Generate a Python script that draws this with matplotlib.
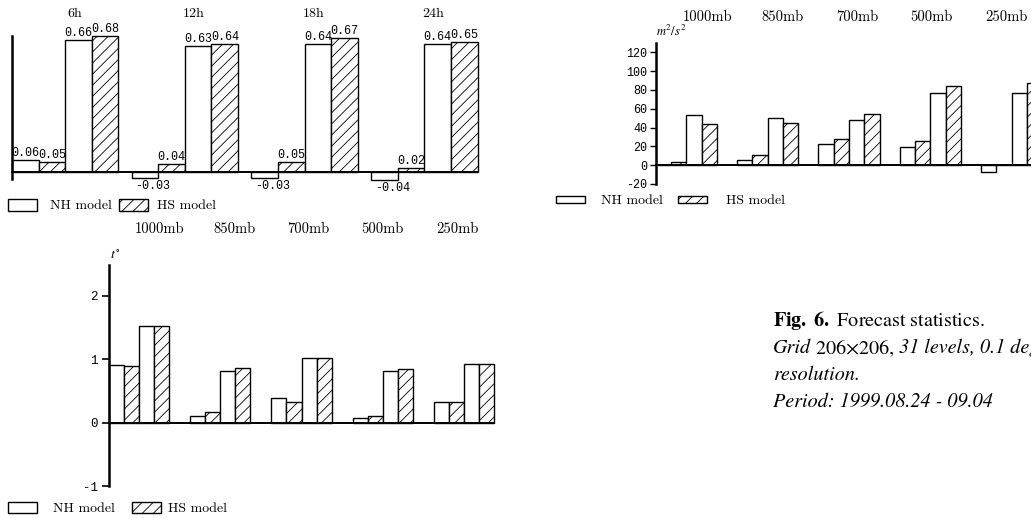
import numpy as np
import matplotlib.pyplot as plt
from matplotlib.patches import Rectangle
from matplotlib.transforms import blended_transform_factory

plt.rcParams['axes.unicode_minus'] = False
plt.rcParams['hatch.linewidth'] = 0.6
plt.rcParams['hatch.color'] = '#333333'
plt.rcParams['mathtext.fontset'] = 'stix'

# forecast hours panel (top left)
hours = ['6h', '12h', '18h', '24h']
nh_bias_h = [0.06, -0.03, -0.03, -0.04]
hs_bias_h = [0.05, 0.04, 0.05, 0.02]
nh_rms_h = [0.66, 0.63, 0.64, 0.64]
hs_rms_h = [0.68, 0.64, 0.67, 0.65]

# pressure levels
levels = ['1000mb', '850mb', '700mb', '500mb', '250mb']

# geopotential panel, m2/s2 (top right)
nh_bias_z = [0, 6, 22, 19, -7]
hs_bias_z = [3, 11, 28, 26, 0]
nh_rms_z = [53, 50, 48, 77, 77]
hs_rms_z = [44, 45, 54, 84, 87]

# temperature panel (bottom left)
nh_bias_t = [0.90, 0.10, 0.38, 0.07, 0.32]
hs_bias_t = [0.89, 0.16, 0.32, 0.10, 0.32]
nh_rms_t = [1.52, 0.82, 1.01, 0.82, 0.92]
hs_rms_t = [1.52, 0.86, 1.01, 0.84, 0.92]

W, H = 1031, 518
fig = plt.figure(figsize=(W / 100, H / 100), dpi=100)

MONO = 'Liberation Mono'
SERIF = 'cmr10'


def px_axes(left, top, right, bottom):
    return fig.add_axes([left / W, 1 - bottom / H, (right - left) / W, (bottom - top) / H])


def fig_xy(x, y):
    return x / W, 1 - y / H


def draw_groups(ax, series, spacing):
    bars = []
    for j, vals in enumerate(series):
        x = np.arange(len(vals)) * spacing + j
        hatch = '///' if j % 2 else None
        b = ax.bar(x, vals, width=1, align='edge', color='white', edgecolor='black',
                   hatch=hatch, lw=1.0, clip_on=False, zorder=2)
        bars.append(b)
    ax.axhline(0, color='black', lw=1.4, zorder=3, clip_on=False)
    for s in ['top', 'right', 'bottom']:
        ax.spines[s].set_visible(False)
    ax.spines['left'].set_linewidth(1.8)
    ax.set_xticks([])
    ax.patch.set_visible(False)
    return bars


def legend(x_nh, x_nh_txt, x_hs, x_hs_txt, y_top, y_bot, size):
    for x0, hatch in [(x_nh, None), (x_hs, '///')]:
        r = Rectangle(fig_xy(x0, y_bot), 28.5 / W, (y_bot - y_top) / H,
                      transform=fig.transFigure, facecolor='white', edgecolor='black',
                      lw=1.0, hatch=hatch)
        fig.add_artist(r)
    yc = 1 - ((y_top + y_bot) / 2 + 1) / H
    fig.text(x_nh_txt / W, yc, 'NH model', family=SERIF, size=size, va='center')
    fig.text(x_hs_txt / W, yc, 'HS model', family=SERIF, size=size, va='center')


# ---- panel 1: forecast hours
sp1 = 4.5
ax1 = px_axes(12, 35.7, 12 + 17.5 * 26.6, 178.7)
bars1 = draw_groups(ax1, [nh_bias_h, hs_bias_h, nh_rms_h, hs_rms_h], sp1)
ax1.set_xlim(0, 17.5)
ax1.set_ylim(-0.035, 0.68)
ax1.set_yticks([])
for b in bars1:
    for rect in b:
        v = rect.get_height()
        xc = rect.get_x() + rect.get_width() / 2
        if v >= 0:
            ax1.text(xc, v + 0.006, f'{v:.2f}', ha='center', va='bottom', family=MONO, size=8.5)
        else:
            ax1.text(xc + 0.3, v - 0.012, f'{v:.2f}', ha='center', va='top', family=MONO, size=8.5)
tr1 = blended_transform_factory(ax1.transData, fig.transFigure)
for g, lab in enumerate(hours):
    ax1.text(g * sp1 + 2.35, 1 - 14 / H, lab, transform=tr1, ha='center', va='center',
             family=SERIF, size=10)
legend(8, 50, 119, 157, 199, 211, 10)

# ---- panel 2: geopotential
sp2 = 5.32
ax2 = px_axes(655.6, 42.9, 655.6 + (4 * sp2 + 4) * 15.3, 184.0)
draw_groups(ax2, [nh_bias_z, hs_bias_z, nh_rms_z, hs_rms_z], sp2)
ax2.set_xlim(0, 4 * sp2 + 4)
ax2.set_ylim(-20, 130)
ax2.set_yticks(np.arange(-20, 121, 20))
ax2.tick_params(axis='y', direction='out', length=4, width=1, pad=2)
for t in ax2.get_yticklabels():
    t.set_family(MONO)
    t.set_size(8.5)
fig.text(*fig_xy(656, 31), r'$m^2/s^2$', size=9, va='center')
for i, lab in enumerate(levels):
    fig.text(*fig_xy(708 + i * 74.5, 17), lab, family=SERIF, size=10.5, ha='center', va='center')
legend(556, 601, 678, 726, 196, 203, 10)

# ---- panel 3: temperature
sp3 = 5.4
ax3 = px_axes(109, 265, 109 + (4 * sp3 + 4) * 15.04, 486.2)
draw_groups(ax3, [nh_bias_t, hs_bias_t, nh_rms_t, hs_rms_t], sp3)
ax3.set_xlim(0, 4 * sp3 + 4)
ax3.set_ylim(-1, 2.48)
ax3.set_yticks([-1, 0, 1, 2])
ax3.tick_params(axis='y', direction='out', length=5, width=1.2, pad=3)
for t in ax3.get_yticklabels():
    t.set_family(MONO)
    t.set_size(9)
fig.text(*fig_xy(110, 256), r'$t^{\circ}$', size=10, va='center')
for i, lab in enumerate(levels):
    fig.text(*fig_xy(160 + i * 74.25, 229), lab, family=SERIF, size=10.5, ha='center', va='center')
legend(8, 53, 132, 168, 502, 513, 10)

# ---- caption
cap = dict(family='STIXGeneral', size=14.5, ha='left')
fig.text(*fig_xy(773, 321), r'$\mathbf{Fig.\ 6.}$ Forecast statistics.', va='center', **cap)
prev = fig.text(*fig_xy(773, 348), 'Grid', style='italic', va='center', **cap)
for piece, st in [(' 206\u00d7206, ', 'normal'), ('31 levels, 0.1 deg', 'italic')]:
    prev = ax1.annotate(piece, xy=(1, 0), xycoords=prev, va='bottom', style=st,
                        annotation_clip=False, **cap)
fig.text(*fig_xy(773, 375), 'resolution.', style='italic', va='center', **cap)
fig.text(*fig_xy(773, 402), 'Period: 1999.08.24 - 09.04', style='italic', va='center', **cap)

fig.savefig('out.png', dpi=100)
